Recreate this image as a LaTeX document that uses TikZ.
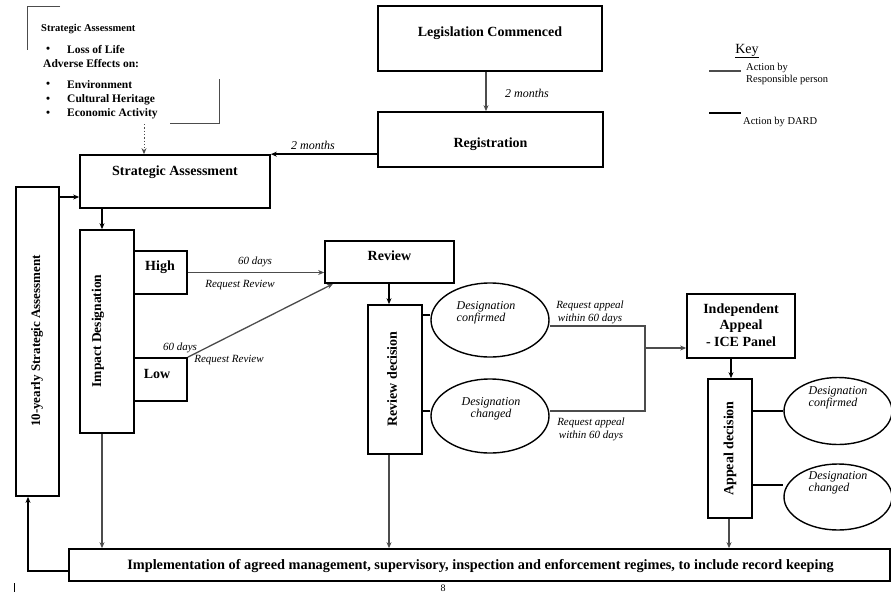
\documentclass[tikz,border=0pt]{standalone}
\usepackage{fontspec}
\setmainfont{Liberation Serif}
\usetikzlibrary{arrows.meta,shapes.geometric,backgrounds}
\definecolor{gcol}{gray}{0.3}
\begin{document}
\begin{tikzpicture}[x=1pt,y=-1pt,
 box/.style={draw, line width=1.7pt, fill=white, inner sep=0pt},
 ell/.style={draw, ellipse, line width=1.4pt, fill=white, inner sep=0pt},
 lbl/.style={font=\fontsize{14}{16}\selectfont\bfseries, inner sep=0pt, align=center},
 note/.style={font=\fontsize{11.5}{13}\selectfont\bfseries, inner sep=0pt, anchor=west},
 ital/.style={font=\fontsize{11}{12.5}\selectfont\itshape, inner sep=0pt, align=center},
 keytxt/.style={font=\fontsize{11}{12.5}\selectfont, inner sep=0pt, anchor=west, align=left},
 dard/.style={line width=1.7pt, draw=black},
 resp/.style={line width=1.3pt, draw=gcol},
 tip/.style={-{Stealth[length=6pt,width=5pt]}},
]
\useasboundingbox (0,0) rectangle (891,592);

% ---------- note at top left ----------
\draw[resp, line width=1pt] (60,6) -- (27,6) -- (27,50);
\draw[resp, line width=1pt] (219,79) -- (219,123) -- (170,123);
\node[note, font=\fontsize{10.5}{12}\selectfont\bfseries] (n0) at (41,29) {Strategic Assessment};
\node[note] (b1) at (46,50) {\textbullet};
\node[note] (n1) at (67,50) {Loss of Life};
\node[note] (n2) at (43,64) {Adverse Effects on:};
\node[note] (b2) at (46,85) {\textbullet};
\node[note] (n3) at (67,85) {Environment};
\node[note] (b3) at (46,100) {\textbullet};
\node[note] (n4) at (67,100) {Cultural Heritage};
\node[note] (b4) at (46,114) {\textbullet};
\node[note] (n5) at (67,114) {Economic Activity};
\coordinate (noteend) at (144,124);

% ---------- key ----------
\node[inner sep=0pt, font=\fontsize{14}{16}\selectfont] (key) at (747,51) {\underline{Key}};
\coordinate (k1a) at (709,71);
\coordinate (k1b) at (741,71);
\coordinate (k2a) at (709,113);
\coordinate (k2b) at (741,113);
\draw[resp, line width=1.7pt] (k1a) -- (k1b);
\draw[dard, line width=2.3pt] (k2a) -- (k2b);
\node[keytxt, font=\fontsize{10.5}{12.5}\selectfont] (k1t) at (746,74) {Action by\\Responsible person};
\node[keytxt, font=\fontsize{10.5}{12.5}\selectfont] (k2t) at (743,122) {Action by DARD};

% ---------- boxes ----------
\node[box, minimum width=224pt, minimum height=65pt] (leg) at (490,38.5) {};
\node[lbl] (legt) at (490,33) {Legislation Commenced};

\node[box, minimum width=225pt, minimum height=55pt] (reg) at (490.5,139.5) {};
\node[lbl] (regt) at (490.5,144) {Registration};

\node[box, minimum width=190pt, minimum height=53pt] (sa) at (175,181.5) {};
\node[lbl] (sat) at (175,172) {Strategic Assessment};

\node[box, minimum width=43pt, minimum height=309pt] (ten) at (37.5,341.5) {};
\node[lbl, rotate=90, font=\fontsize{13}{15}\selectfont\bfseries] (tent) at (37,341) {10-yearly Strategic Assessment};

\node[box, minimum width=54pt, minimum height=203pt] (imp) at (107,331.5) {};
\node[lbl, rotate=90, font=\fontsize{13.5}{15}\selectfont\bfseries] (impt) at (98,331) {Impact Designation};

\node[box, minimum width=53pt, minimum height=43pt] (high) at (160.5,272.5) {};
\node[lbl] (hight) at (160,267) {High};
\node[box, minimum width=53pt, minimum height=43pt] (low) at (160.5,379.5) {};
\node[lbl] (lowt) at (157,374) {Low};

\node[box, minimum width=129pt, minimum height=42pt] (review) at (389.5,262) {};
\node[lbl] (reviewt) at (389.5,256) {Review};

\node[box, minimum width=54pt, minimum height=149pt] (rd) at (395,379.5) {};
\node[lbl, rotate=90] (rdt) at (392,379) {Review decision};

\node[ell, minimum width=118pt, minimum height=74pt] (e1) at (490,320) {};
\node[ital, font=\fontsize{12}{12.5}\selectfont\itshape, align=left] (e1t) at (486,313) {Designation\\confirmed};
\node[ell, minimum width=118pt, minimum height=74pt] (e2) at (490,416) {};
\node[ital, font=\fontsize{12}{12.5}\selectfont\itshape] (e2t) at (491,409) {Designation\\changed};

\node[box, minimum width=108pt, minimum height=64pt] (ia) at (741,326) {};
\node[lbl, font=\fontsize{14}{16.5}\selectfont\bfseries] (iat) at (741,325) {Independent\\Appeal\\- ICE Panel};

\node[box, minimum width=44pt, minimum height=139pt] (ad) at (730,448.5) {};
\node[lbl, rotate=90] (adt) at (730,448.5) {Appeal decision};

\node[ell, minimum width=108pt, minimum height=67pt] (ac) at (838,411) {};
\node[ital, font=\fontsize{12}{12.5}\selectfont\itshape, align=left] (act) at (838,398) {Designation\\confirmed};
\node[ell, minimum width=108pt, minimum height=66pt] (ach) at (838,497) {};
\node[ital, font=\fontsize{12}{12.5}\selectfont\itshape, align=left] (acht) at (838,483) {Designation\\changed};

\node[box, minimum width=821pt, minimum height=32pt] (impl) at (479.5,565) {};
\node[lbl, font=\fontsize{14.3}{16}\selectfont\bfseries] (implt) at (480.5,566) {Implementation of agreed management, supervisory, inspection and enforcement regimes, to include record keeping};

% ---------- connectors ----------
\begin{scope}[on background layer]
\fill[white] (0,0) rectangle (891,592);
\draw[resp, tip] (leg.south -| 486,0) -- (reg.north -| 486,0);
\node[ital, font=\fontsize{12}{14}\selectfont\itshape] (m1) at (527,93) {2 months};

\draw[dard, tip] (reg.west |- sa.north east) -- (sa.north east);
\node[ital, font=\fontsize{12}{14}\selectfont\itshape] (m2) at (313,145) {2 months};

\draw[resp, dotted, line width=1pt, tip] (noteend) -- (noteend |- sa.north);

\draw[dard, tip] (ten.east |- 0,197) -- (sa.west |- 0,197);
\draw[dard, tip] (sa.south -| 102,0) -- (imp.north -| 102,0);

\draw[resp, tip] (high.east) -- (review.west |- high.east);
\node[ital] (d1) at (255,262) {60 days};
\node[ital] (r1) at (240,285) {Request Review};

\draw[resp, tip] (low.north east) -- (review.south west -| 333,0);
\node[ital] (d2) at (180,348) {60 days};
\node[ital] (r2) at (229,360) {Request Review};

\draw[resp, tip] (imp.south -| 102,0) -- (impl.north -| 102,0);

\draw[dard, tip] (review.south -| 389,0) -- (rd.north -| 389,0);
\draw[dard] (rd.east |- 0,315) -- (e1.west |- 0,315);
\draw[dard] (rd.east |- 0,411) -- (e2.west |- 0,411);

\coordinate (jn) at (645,348);
\draw[resp] (e1.east |- 0,326) -- (jn |- 0,326) -- (jn |- 0,411) -- (e2.east |- 0,411);
\draw[resp, tip] (jn) -- (ia.west |- jn);
\node[ital, font=\fontsize{11}{13}\selectfont\itshape] (a1) at (590,312) {Request appeal\\within 60 days};
\node[ital, font=\fontsize{11}{13}\selectfont\itshape] (a2) at (591,429) {Request appeal\\within 60 days};

\draw[resp, tip] (rd.south -| 389,0) -- (impl.north -| 389,0);

\draw[dard, tip] (ia.south -| 731,0) -- (ad.north -| 731,0);
\draw[dard] (ad.east |- 0,411) -- (ac.west |- 0,411);
\draw[dard] (ad.east |- 0,485) -- (ach.west |- 0,485);
\draw[resp, tip] (ad.south -| 729,0) -- (impl.north -| 729,0);

\draw[dard, tip] (impl.west |- 0,571) -| (ten.south -| 28,0);
\end{scope}

% ---------- page artefacts ----------
\coordinate (tk1) at (14,583);
\coordinate (tk2) at (14,592);
\draw[line width=1pt] (tk1) -- (tk2);
\node[inner sep=0pt, font=\fontsize{10}{12}\selectfont] (pg) at (443,588) {8};
\end{tikzpicture}
\end{document}
